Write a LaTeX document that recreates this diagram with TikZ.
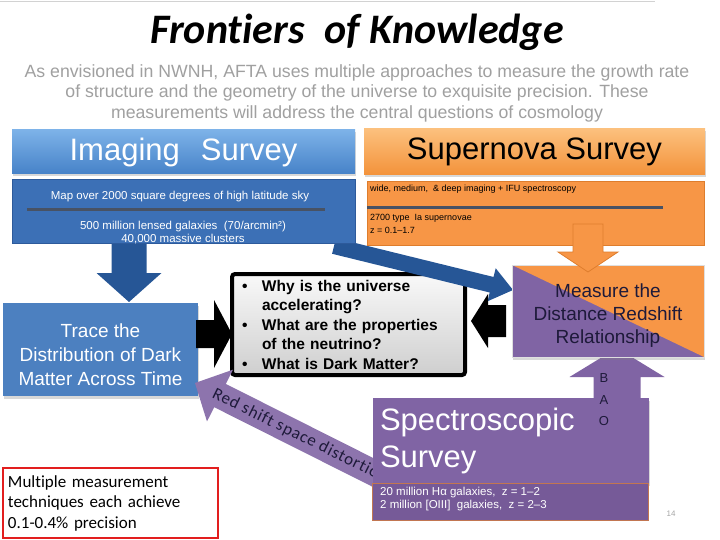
\documentclass[tikz,border=0pt]{standalone}
\usepackage{fontspec}
\setmainfont{Liberation Sans}
\newfontfamily\carlito{Carlito}[Ligatures=NoCommon]
\usetikzlibrary{calc,positioning,shadows}

\definecolor{imgtop}{RGB}{125,178,232}
\definecolor{imgbot}{RGB}{70,130,200}
\definecolor{imgfill}{RGB}{60,112,182}
\definecolor{imgedge}{RGB}{45,90,155}
\definecolor{tracefill}{RGB}{76,128,192}
\definecolor{deepblue}{RGB}{38,86,150}
\definecolor{sntop}{RGB}{252,192,125}
\definecolor{snbot}{RGB}{243,146,58}
\definecolor{snfill}{RGB}{247,150,70}
\definecolor{snedge}{RGB}{222,125,45}
\definecolor{purp}{RGB}{128,100,164}
\definecolor{purpdark}{RGB}{118,90,152}
\definecolor{inktext}{RGB}{30,26,58}
\definecolor{subgray}{RGB}{160,160,160}
\definecolor{alertred}{RGB}{226,30,30}
\definecolor{rulegray}{RGB}{72,82,100}

% block arrow: [style]{tail}{tip}{half shaft}{half head}{head length}
\newcommand\blockarrow[6][]{%
  \fill[#1] let \p1=(#2), \p2=(#3), \n1={veclen(\x2-\x1,\y2-\y1)},
      \n2={(\x2-\x1)/\n1}, \n3={(\y2-\y1)/\n1} in
    ({\x1-#4*\n3},{\y1+#4*\n2})
    -- ({\x2-#6*\n2-#4*\n3},{\y2-#6*\n3+#4*\n2})
    -- ({\x2-#6*\n2-#5*\n3},{\y2-#6*\n3+#5*\n2})
    -- (\p2)
    -- ({\x2-#6*\n2+#5*\n3},{\y2-#6*\n3-#5*\n2})
    -- ({\x2-#6*\n2+#4*\n3},{\y2-#6*\n3-#4*\n2})
    -- ({\x1+#4*\n3},{\y1-#4*\n2}) -- cycle;}
\newcommand\qitem[1]{\makebox[20pt][l]{\textbullet}#1}
\newcommand\qmore[1]{\hspace*{20pt}#1}

\begin{document}
\begin{tikzpicture}[x=1pt, y=-1pt,
  box/.style={anchor=north west, inner sep=0pt, outer sep=0pt},
  boxshadow/.style={drop shadow={opacity=.3, shadow xshift=1pt, shadow yshift=-2.5pt}},
  hdr/.style={box, boxshadow, font=\fontsize{31}{36}\selectfont},
  small/.style={font=\fontsize{11.5}{13}\selectfont, inner sep=0pt},
  tiny/.style={font=\fontsize{9}{13}\selectfont, inner sep=0pt, anchor=west},
  rule/.style={line width=3pt, rulegray}
]
% --- frame and title -------------------------------------------------------
\fill[white] (0,0) rectangle (720,540);
\useasboundingbox (0,0) rectangle (720,540);
\draw[gray!35, line width=1pt] (0,2) -- (655,2);

\node[font=\carlito\bfseries\itshape\fontsize{42}{48}\selectfont] (title) at (357,32)
  {Frontiers\hspace{0.25em} of Knowledge};
\node[text=subgray, align=center, font=\fontsize{17.7}{20.5}\selectfont] (intro) at (357,93)
  {As envisioned in NWNH, AFTA uses multiple approaches to measure the growth rate\\
   of structure and the geometry of the universe to exquisite precision. These\\
   measurements will address the central questions of cosmology};

% --- dark matter and the questions -----------------------------------------
\node[box, boxshadow, fill=tracefill, minimum width=195, minimum height=93] (trace) at (3,303) {};
\node[text=white, align=center, font=\fontsize{19}{24}\selectfont] (tracetext)
  at ($(trace.center)+(0,5)$) {Trace the\\Distribution of Dark\\Matter Across Time};
\coordinate (ra1) at (196,334);
\coordinate (ra2) at (232,334);
\blockarrow[fill=black]{ra1}{ra2}{14pt}{34pt}{18pt}
\node[box, line width=4pt, draw=black, rounded corners=3pt, top color=gray!5, bottom color=gray!38,
      minimum width=233, minimum height=101, text width=213, inner xsep=10pt, align=left,
      font=\bfseries\fontsize{15.5}{19.5}\selectfont] (questions) at (232,274)
  {\qitem{Why is the universe}\\\qmore{accelerating?}\\
   \qitem{What are the properties}\\\qmore{of the neutrino?}\\
   \qitem{What is Dark Matter?}};
\coordinate (da1) at (334,246);
\coordinate (da2) at (513,290);
\blockarrow[fill=deepblue]{da1}{da2}{8pt}{17pt}{22pt}

% --- imaging survey --------------------------------------------------------
\node[hdr, top color=imgtop, bottom color=imgbot, text=white, minimum width=343, minimum height=44]
  (imghdr) at (12,130) {Imaging\hspace{0.4em} Survey};
\coordinate (ia1) at (129,236);
\coordinate (ia2) at (129,302);
\blockarrow[fill=deepblue]{ia1}{ia2}{17.5pt}{32.5pt}{29pt}
\node[box, fill=imgfill, draw=imgedge, minimum width=343, minimum height=64] (imgbody) at (12,179) {};
\node[small, text=white] (imgmap) at (180,197) {Map over 2000 square degrees of high latitude sky};
\draw[rule] (27,210) -- (325,210);
\node[small, text=white, align=center] (imggal) at (183,233)
  {500 million lensed galaxies\ \ (70/arcmin²)\\40,000 massive clusters};

% --- supernova survey ------------------------------------------------------
\node[hdr, top color=sntop, bottom color=snbot, text=black, minimum width=341, minimum height=46]
  (snhdr) at (364,129) {Supernova Survey};
\node[box, fill=snfill, draw=snedge, minimum width=337, minimum height=64] (snbody) at (367,181) {};
\node[tiny] (snmode) at (370,189) {wide,\ medium,\ \ \& deep\ imaging + IFU spectroscopy};
\draw[rule] (367,208) -- (663,208);
\node[tiny, align=left, anchor=north west] (sncount) at (370,214)
  {2700 type\ \ Ia supernovae\\z = 0.1–1.7};

% --- distance redshift -----------------------------------------------------
\coordinate (bao1) at (617,432);
\coordinate (bao2) at (617,348);
\blockarrow[fill=purp]{bao1}{bao2}{23.5pt}{47.5pt}{29pt}
\node[box, boxshadow, fill=purp, draw=gray!25, minimum width=192, minimum height=92,
      path picture={\fill[snfill] (path picture bounding box.north west)
        -- (path picture bounding box.north east) -- (path picture bounding box.south east) -- cycle;}]
  (measure) at (512,265) {};
\node[text=inktext, align=center, font=\fontsize{19}{23}\selectfont] (measuretext)
  at ($(measure.center)+(0,5)$) {Measure the\\Distance Redshift\\Relationship};
\coordinate (oa1) at (588,224);
\coordinate (oa2) at (588,272);
\blockarrow[fill=snfill, draw=snedge, line width=0.8pt]{oa1}{oa2}{15pt}{30pt}{20pt}
\coordinate (la1) at (506,321);
\coordinate (la2) at (471,321);
\blockarrow[fill=black]{la1}{la2}{16pt}{27pt}{17pt}

% --- spectroscopic survey --------------------------------------------------
\coordinate (rs1) at (390,481);
\coordinate (rs2) at (195,383);
\blockarrow[fill=purp!90!white]{rs1}{rs2}{13pt}{29pt}{28pt}
\node[text=inktext, rotate=-26.3, font=\carlito\addfontfeature{LetterSpace=5}\fontsize{17}{19}\selectfont]
  (rslabel) at (300,436) {Red shift space distortion};
\node[hdr, fill=purp, text=white, minimum width=276, minimum height=85, text width=262,
      inner xsep=7pt, align=left, font=\fontsize{31}{37}\selectfont] (spechdr) at (373,398)
  {Spectroscopic\\Survey};
\node[box, fill=purpdark, draw=snedge!70!purp, minimum width=276, minimum height=37] (specbody) at (372,483) {};
\node[small, text=white, align=left, anchor=north west] (speccount) at (380,487)
  {20 million Hα galaxies,\ \ z = 1–2\\2 million [OIII]\ \ galaxies,\ \ z = 2–3};
\foreach \l/\y in {B/378,A/400,O/421}
  \node[font=\fontsize{13}{15}\selectfont, text=inktext] (bao-\l) at (604,\y) {\l};

% --- note ------------------------------------------------------------------
\node[box, draw=alertred, line width=1.5pt, minimum width=215, minimum height=70, text width=205,
      inner xsep=5pt, align=left, font=\carlito\fontsize{17}{20.5}\selectfont] (precision) at (3,468)
  {Multiple measurement\\techniques each achieve\\0.1-0.4\% precision};
\node[text=gray!70, font=\fontsize{8}{10}\selectfont] (pageno) at (671,514) {14};
\end{tikzpicture}
\end{document}
